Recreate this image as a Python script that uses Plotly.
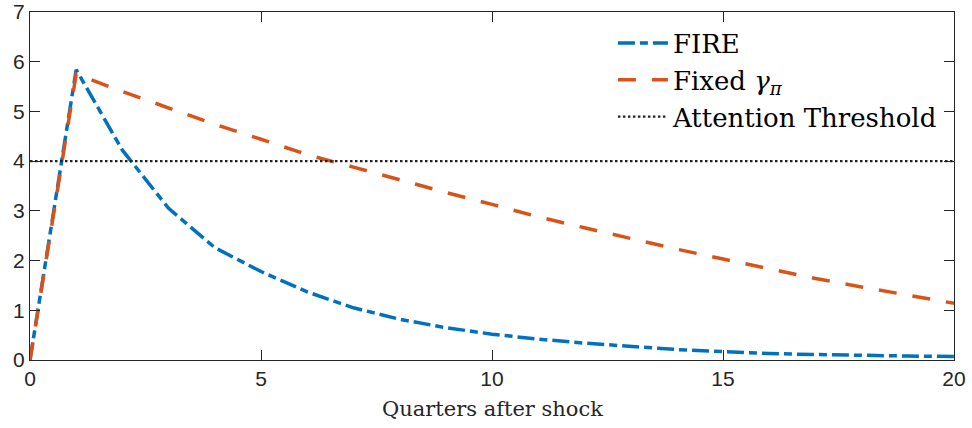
import plotly.graph_objects as go

quarters = list(range(0, 21))
fire = [0, 5.84, 4.22, 3.05, 2.26, 1.78, 1.37, 1.05, 0.82, 0.65, 0.52,
        0.42, 0.34, 0.27, 0.21, 0.17, 0.13, 0.11, 0.09, 0.08, 0.07]
fixed_gamma = [0, 5.75, 5.40, 5.07, 4.74, 4.44, 4.13, 3.88, 3.62, 3.37, 3.13,
               2.88, 2.66, 2.44, 2.23, 2.03, 1.83, 1.64, 1.47, 1.30, 1.14]
threshold_x = [0, 20]
threshold_y = [4, 4]
x_ticks = [0, 5, 10, 15, 20]
y_ticks = [0, 1, 2, 3, 4, 5, 6, 7]

blue = "#0072BD"
orange = "#D95319"
axis_col = "#262626"

fig = go.Figure()
fig.add_trace(go.Scatter(x=quarters, y=fire, mode="lines", name="FIRE",
                         line=dict(color=blue, width=3.5, dash="17px,5px,8px,5px")))
fig.add_trace(go.Scatter(x=quarters, y=fixed_gamma, mode="lines",
                         name="Fixed <i>γ</i><sub><i>π</i></sub>",
                         line=dict(color=orange, width=3.5, dash="18px,16px")))
fig.add_trace(go.Scatter(x=threshold_x, y=threshold_y, mode="lines",
                         name="Attention Threshold",
                         line=dict(color="#222222", width=2.2, dash="2.5px,2.5px")))

fig.update_layout(
    width=972, height=428,
    margin=dict(l=30, r=18, t=12, b=68, autoexpand=False),
    paper_bgcolor="white", plot_bgcolor="white",
    showlegend=True,
    legend=dict(x=0.988, xanchor="right", y=0.978, yanchor="top",
                bgcolor="rgba(0,0,0,0)", itemwidth=50,
                font=dict(family="DejaVu Serif", size=26, color="black"),
                tracegroupgap=0),
    xaxis=dict(range=[0, 20], tickvals=x_ticks, ticks="inside", ticklen=10,
               tickcolor=axis_col, showline=True, linecolor=axis_col, linewidth=1,
               mirror="ticks", showgrid=False, zeroline=False, automargin=False,
               tickfont=dict(family="Liberation Sans", size=21, color=axis_col)),
    yaxis=dict(range=[0, 7], tickvals=y_ticks, ticks="inside", ticklen=10,
               tickcolor=axis_col, showline=True, linecolor=axis_col, linewidth=1,
               mirror="ticks", showgrid=False, zeroline=False, automargin=False,
               ticklabeloverflow="allow",
               tickfont=dict(family="Liberation Sans", size=21, color=axis_col)),
    annotations=[dict(text="Quarters after shock", xref="paper", yref="paper",
                      x=0.5, y=-0.10, xanchor="center", yanchor="top",
                      showarrow=False,
                      font=dict(family="DejaVu Serif", size=21, color=axis_col))],
)

fig.write_html("out.html",
               config={"displayModeBar": False},
               post_script="document.body.style.margin='0px';")
